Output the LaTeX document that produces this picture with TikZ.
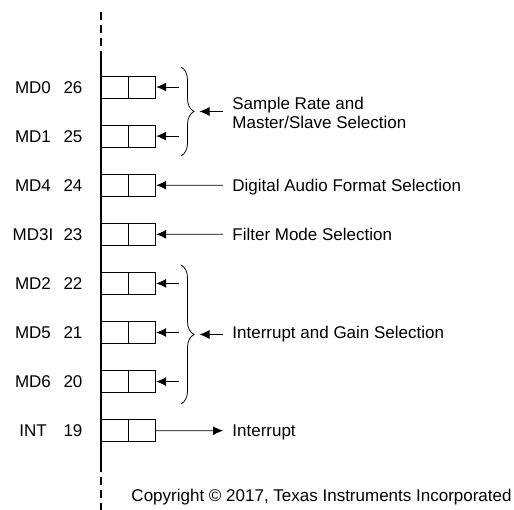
\documentclass[tikz,border=0pt]{standalone}
\usepackage{fontspec}
\setmainfont{Liberation Sans}
\usetikzlibrary{arrows.meta,decorations.pathreplacing}

\tikzset{
  cell/.style={draw, minimum width=27pt, minimum height=22pt, inner sep=0pt},
  lbl/.style={inner sep=0pt, text height=12.2pt, text depth=0pt, font=\fontsize{17}{19}\selectfont},
  txt/.style={lbl, anchor=west},
  bus/.style={line width=2pt},
  busdash/.style={bus, dash pattern=on 8pt off 5pt},
  curly/.style={decorate, decoration={brace, amplitude=13pt}},
}

\begin{document}
\begin{tikzpicture}[x=1pt, y=-1pt, >={Latex[length=10pt,width=9pt]}, line width=0.8pt]
\useasboundingbox (0,0) rectangle (514,510);

\foreach \nm/\pin/\k in {MD0/26/0, MD1/25/1, MD4/24/2, MD3I/23/3, MD2/22/4, MD5/21/5, MD6/20/6, INT/19/7} {
  \pgfmathsetmacro\yy{87+49.1*\k}
  \node[cell] (a\pin) at (114.5,\yy) {};
  \node[cell, anchor=west] (b\pin) at (a\pin.east) {};
  \node[lbl] (n\pin) at (33,\yy) {\nm};
  \node[lbl] (p\pin) at (73,\yy) {\pin};
}

\draw[busdash] (101,12) -- (101,55);
\draw[bus] (101,55) -- (101,472);
\draw[busdash] (101,477) -- (101,510);

\node[txt, align=left, text height=, text depth=] (srate) at (232,113) {Sample Rate and\\Master/Slave Selection};
\node[txt] (dafs) at (232,185.2) {Digital Audio Format Selection};
\node[txt] (fms) at (232,234.3) {Filter Mode Selection};
\node[txt] (igs) at (232,332.5) {Interrupt and Gain Selection};
\node[txt] (intr) at (232,430.7) {Interrupt};
\node[inner sep=0pt, anchor=base east, font=\fontsize{17}{19}\selectfont] (copy) at (512,501) {Copyright © 2017, Texas Instruments Incorporated};

\foreach \pin in {26,25,22,21,20} {
  \coordinate (s\pin) at ([xshift=23pt]b\pin.east);
  \draw[->] (s\pin) -- (b\pin.east);
}

\coordinate (topA) at (181,67);
\coordinate (botA) at (181,156);
\coordinate (tipA) at (199.5,111.5);
\coordinate (tailA) at (223,111.5);
\coordinate (topB) at (181,265);
\coordinate (botB) at (181,404);
\coordinate (tipB) at (199.5,334.5);
\coordinate (tailB) at (223,334.5);

\draw[curly] (topA) -- (botA);
\draw[curly] (topB) -- (botB);
\draw[->] (tailA) -- (tipA);
\draw[->] (tailB) -- (tipB);

\draw[->, shorten <=9pt] (dafs.west) -- (b24.east);
\draw[->, shorten <=9pt] (fms.west) -- (b23.east);
\draw[->, shorten >=9pt] (b19.east) -- (intr.west);
\end{tikzpicture}
\end{document}
